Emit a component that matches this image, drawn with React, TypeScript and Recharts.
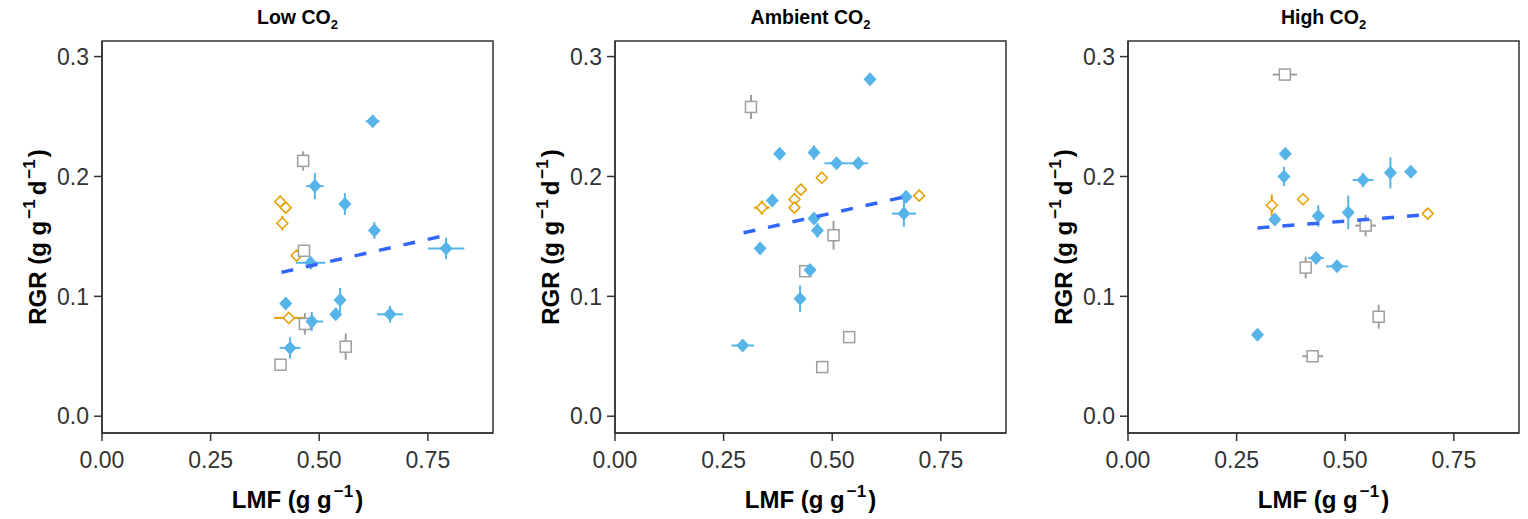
import React from "react";
import { ScatterChart, Scatter, XAxis, YAxis, ErrorBar, ReferenceArea } from "recharts";

// each point: [LMF, RGR, LMF error, RGR error]
type Pt = [number, number, number, number];

const panelTitles = ["Low", "Ambient", "High"];
const xTicks = [0, 0.25, 0.5, 0.75];
const yTicks = [0, 0.1, 0.2, 0.3];

const lowBlue: Pt[] = [
  [0.623, 0.246, 0.016, 0.002],
  [0.49, 0.192, 0.02, 0.011],
  [0.559, 0.177, 0.004, 0.009],
  [0.627, 0.155, 0.012, 0.007],
  [0.792, 0.14, 0.042, 0.009],
  [0.48, 0.128, 0.034, 0.005],
  [0.423, 0.094, 0.004, 0.003],
  [0.548, 0.097, 0.004, 0.01],
  [0.538, 0.085, 0.006, 0.003],
  [0.483, 0.079, 0.026, 0.008],
  [0.663, 0.085, 0.03, 0.007],
  [0.433, 0.057, 0.024, 0.009],
];
const lowOrange: Pt[] = [
  [0.41, 0.179, 0.004, 0.003],
  [0.423, 0.174, 0.004, 0.003],
  [0.415, 0.161, 0.003, 0.006],
  [0.448, 0.134, 0.005, 0.003],
  [0.43, 0.082, 0.034, 0.002],
];
const lowGray: Pt[] = [
  [0.463, 0.213, 0.003, 0.008],
  [0.465, 0.138, 0.004, 0.004],
  [0.467, 0.077, 0.004, 0.009],
  [0.561, 0.058, 0.004, 0.011],
  [0.411, 0.043, 0.005, 0.002],
];
const lowFit = [
  [0.413, 0.12],
  [0.78, 0.15],
];

const ambBlue: Pt[] = [
  [0.587, 0.281, 0.008, 0.002],
  [0.379, 0.219, 0.005, 0.003],
  [0.458, 0.22, 0.004, 0.006],
  [0.51, 0.211, 0.028, 0.003],
  [0.56, 0.211, 0.022, 0.003],
  [0.362, 0.18, 0.006, 0.005],
  [0.67, 0.183, 0.006, 0.003],
  [0.665, 0.169, 0.028, 0.011],
  [0.458, 0.165, 0.005, 0.003],
  [0.466, 0.155, 0.004, 0.006],
  [0.334, 0.14, 0.004, 0.003],
  [0.449, 0.122, 0.012, 0.003],
  [0.426, 0.098, 0.003, 0.011],
  [0.294, 0.059, 0.026, 0.003],
];
const ambOrange: Pt[] = [
  [0.476, 0.199, 0.006, 0.004],
  [0.428, 0.189, 0.004, 0.003],
  [0.413, 0.181, 0.006, 0.005],
  [0.413, 0.174, 0.012, 0.004],
  [0.338, 0.174, 0.018, 0.006],
  [0.7, 0.184, 0.004, 0.002],
];
const ambGray: Pt[] = [
  [0.313, 0.258, 0.003, 0.01],
  [0.503, 0.151, 0.012, 0.012],
  [0.438, 0.121, 0.012, 0.002],
  [0.539, 0.066, 0.004, 0.002],
  [0.477, 0.041, 0.01, 0.002],
];
const ambFit = [
  [0.296, 0.153],
  [0.667, 0.183],
];

const highBlue: Pt[] = [
  [0.362, 0.219, 0.003, 0.003],
  [0.359, 0.2, 0.004, 0.008],
  [0.541, 0.197, 0.024, 0.006],
  [0.604, 0.203, 0.004, 0.013],
  [0.651, 0.204, 0.014, 0.003],
  [0.338, 0.164, 0.004, 0.003],
  [0.438, 0.167, 0.003, 0.009],
  [0.507, 0.17, 0.004, 0.014],
  [0.433, 0.132, 0.018, 0.003],
  [0.481, 0.125, 0.025, 0.002],
  [0.298, 0.068, 0.003, 0.003],
];
const highOrange: Pt[] = [
  [0.331, 0.176, 0.004, 0.009],
  [0.403, 0.181, 0.003, 0.003],
  [0.69, 0.169, 0.006, 0.002],
];
const highGray: Pt[] = [
  [0.361, 0.285, 0.028, 0.003],
  [0.547, 0.159, 0.024, 0.009],
  [0.409, 0.124, 0.004, 0.009],
  [0.577, 0.083, 0.004, 0.01],
  [0.425, 0.05, 0.024, 0.002],
];
const highFit = [
  [0.298, 0.157],
  [0.684, 0.168],
];

const FONT = "'Liberation Sans', Arial, sans-serif";
const BLUE = "#56B4E9";
const ORANGE = "#E69F00";
const GRAY = "#9E9E9E";
const FIT = "#3366FF";
const AXIS = "#333333";
const X_DOMAIN = [0, 0.9];
const Y_DOMAIN = [-0.014, 0.313];

const rows = (pts: Pt[]) => pts.map(([x, y, ex, ey]) => ({ x, y, ex, ey }));

const BlueDiamond = (p: any) => (
  <polygon
    points={`${p.cx},${p.cy - 7} ${p.cx + 6.5},${p.cy} ${p.cx},${p.cy + 7} ${p.cx - 6.5},${p.cy}`}
    fill={BLUE}
  />
);
const OpenDiamond = (p: any) => (
  <polygon
    points={`${p.cx},${p.cy - 5.5} ${p.cx + 5.5},${p.cy} ${p.cx},${p.cy + 5.5} ${p.cx - 5.5},${p.cy}`}
    fill="#fff"
    stroke={ORANGE}
    strokeWidth={1.5}
  />
);
const OpenSquare = (p: any) => (
  <rect x={p.cx - 5.5} y={p.cy - 5.5} width={11} height={11} fill="#fff" stroke={GRAY} strokeWidth={1.5} />
);

const XTitle = ({ viewBox }: any) => (
  <text x={viewBox.x + viewBox.width / 2} y={viewBox.y + 75} textAnchor="middle" fontFamily={FONT} fontWeight="bold" fontSize={24} fill="#000">
    LMF (g g
    <tspan dy={-11} fontSize={17} dx={2}>−1</tspan>
    <tspan dy={11} dx={2}>)</tspan>
  </text>
);

const YTitle = ({ viewBox }: any) => {
  const cy = viewBox.y + viewBox.height / 2;
  return (
    <text x={46} y={cy} transform={`rotate(-90, 46, ${cy})`} textAnchor="middle" fontFamily={FONT} fontWeight="bold" fontSize={24} fill="#000">
      RGR (g g
      <tspan dy={-11} fontSize={17} dx={2}>−1</tspan>
      <tspan dy={11} dx={4}>d</tspan>
      <tspan dy={-11} fontSize={17} dx={2}>−1</tspan>
      <tspan dy={11} dx={2}>)</tspan>
    </text>
  );
};

function Group({ data, color, shape }: { data: Pt[]; color: string; shape: any }) {
  return (
    <Scatter data={rows(data)} shape={shape} isAnimationActive={false}>
      <ErrorBar dataKey="ex" direction="x" width={0} stroke={color} strokeWidth={2} isAnimationActive={false} />
      <ErrorBar dataKey="ey" direction="y" width={0} stroke={color} strokeWidth={2} isAnimationActive={false} />
    </Scatter>
  );
}

function Panel({ left, title, blue, orange, gray, fit }: any) {
  const fitRows = fit.map(([x, y]: number[]) => ({ x, y }));
  return (
    <div style={{ position: "absolute", left, top: 0, width: 502, height: 519 }}>
      <div
        style={{
          position: "absolute",
          left: 102,
          top: 6,
          width: 391,
          textAlign: "center",
          fontFamily: FONT,
          fontWeight: "bold",
          fontSize: 19.5,
          lineHeight: "22px",
          color: "#000",
        }}
      >
        {title} CO<span style={{ fontSize: 13, position: "relative", top: 5 }}>2</span>
      </div>
      <ScatterChart width={502} height={519} margin={{ top: 41, right: 9, bottom: 0, left: 0 }}>
        <XAxis
          type="number"
          dataKey="x"
          domain={X_DOMAIN}
          ticks={xTicks}
          allowDataOverflow
          tickFormatter={(v: number) => v.toFixed(2)}
          height={86}
          tickSize={8}
          tickMargin={11}
          axisLine={{ stroke: AXIS, strokeWidth: 1.5 }}
          tickLine={{ stroke: AXIS, strokeWidth: 1.5 }}
          tick={{ fill: "#333", fontSize: 23, fontFamily: FONT }}
          label={{ content: XTitle }}
        />
        <YAxis
          type="number"
          dataKey="y"
          domain={Y_DOMAIN}
          ticks={yTicks}
          allowDataOverflow
          tickFormatter={(v: number) => v.toFixed(1)}
          width={102}
          tickSize={8}
          tickMargin={5}
          axisLine={{ stroke: AXIS, strokeWidth: 1.5 }}
          tickLine={{ stroke: AXIS, strokeWidth: 1.5 }}
          tick={{ fill: "#333", fontSize: 23, fontFamily: FONT }}
          label={{ content: YTitle }}
        />
        <ReferenceArea
          x1={X_DOMAIN[0]}
          x2={X_DOMAIN[1]}
          y1={Y_DOMAIN[0]}
          y2={Y_DOMAIN[1]}
          fill="none"
          stroke={AXIS}
          strokeWidth={1.5}
          ifOverflow="visible"
        />
        <Group data={orange} color={ORANGE} shape={OpenDiamond} />
        <Group data={gray} color={GRAY} shape={OpenSquare} />
        <Group data={blue} color={BLUE} shape={BlueDiamond} />
        <Scatter
          data={fitRows}
          line={{ stroke: FIT, strokeWidth: 3.5, strokeDasharray: "12 13" }}
          shape={() => <g />}
          isAnimationActive={false}
        />
      </ScatterChart>
    </div>
  );
}

export default function App() {
  return (
    <div style={{ position: "absolute", left: 0, top: 0, width: 1528, height: 519, background: "#fff" }}>
      <Panel left={0} title={panelTitles[0]} blue={lowBlue} orange={lowOrange} gray={lowGray} fit={lowFit} />
      <Panel left={513} title={panelTitles[1]} blue={ambBlue} orange={ambOrange} gray={ambGray} fit={ambFit} />
      <Panel left={1026} title={panelTitles[2]} blue={highBlue} orange={highOrange} gray={highGray} fit={highFit} />
    </div>
  );
}
